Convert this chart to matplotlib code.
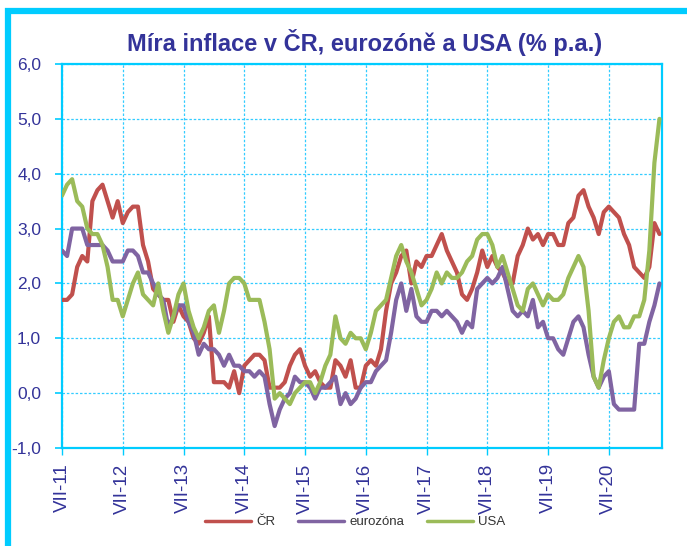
import matplotlib
matplotlib.use("Agg")
import matplotlib.pyplot as plt
from matplotlib.patches import Rectangle
import numpy as np

# ---- data (monthly, VII-2011 .. V-2021) ----
cr = [1.7,1.7,1.8,2.3,2.5,2.4,
      3.5,3.7,3.8,3.5,3.2,3.5,3.1,3.3,3.4,3.4,2.7,2.4,
      1.9,1.8,1.7,1.7,1.3,1.6,1.4,1.3,1.0,0.9,1.1,1.4,
      0.2,0.2,0.2,0.1,0.4,0.0,0.5,0.6,0.7,0.7,0.6,0.1,
      0.1,0.1,0.2,0.5,0.7,0.8,0.5,0.3,0.4,0.2,0.1,0.1,
      0.6,0.5,0.3,0.6,0.1,0.1,0.5,0.6,0.5,0.8,1.5,2.0,
      2.2,2.5,2.6,2.0,2.4,2.3,2.5,2.5,2.7,2.9,2.6,2.4,
      2.2,1.8,1.7,1.9,2.2,2.6,2.3,2.5,2.3,2.2,2.0,2.0,
      2.5,2.7,3.0,2.8,2.9,2.7,2.9,2.9,2.7,2.7,3.1,3.2,
      3.6,3.7,3.4,3.2,2.9,3.3,3.4,3.3,3.2,2.9,2.7,2.3,
      2.2,2.1,2.3,3.1,2.9]
eurozona = [2.6,2.5,3.0,3.0,3.0,2.7,
            2.7,2.7,2.7,2.6,2.4,2.4,2.4,2.6,2.6,2.5,2.2,2.2,
            2.0,1.8,1.7,1.2,1.4,1.6,1.6,1.3,1.1,0.7,0.9,0.8,
            0.8,0.7,0.5,0.7,0.5,0.5,0.4,0.4,0.3,0.4,0.3,-0.2,
            -0.6,-0.3,-0.1,0.0,0.3,0.2,0.2,0.1,-0.1,0.1,0.1,0.2,
            0.3,-0.2,0.0,-0.2,-0.1,0.1,0.2,0.2,0.4,0.5,0.6,1.1,
            1.7,2.0,1.5,1.9,1.4,1.3,1.3,1.5,1.5,1.4,1.5,1.4,
            1.3,1.1,1.3,1.2,1.9,2.0,2.1,2.0,2.1,2.3,1.9,1.5,
            1.4,1.5,1.4,1.7,1.2,1.3,1.0,1.0,0.8,0.7,1.0,1.3,
            1.4,1.2,0.7,0.3,0.1,0.3,0.4,-0.2,-0.3,-0.3,-0.3,-0.3,
            0.9,0.9,1.3,1.6,2.0]
usa = [3.6,3.8,3.9,3.5,3.4,3.0,
       2.9,2.9,2.7,2.3,1.7,1.7,1.4,1.7,2.0,2.2,1.8,1.7,
       1.6,2.0,1.5,1.1,1.4,1.8,2.0,1.5,1.2,1.0,1.2,1.5,
       1.6,1.1,1.5,2.0,2.1,2.1,2.0,1.7,1.7,1.7,1.3,0.8,
       -0.1,0.0,-0.1,-0.2,0.0,0.1,0.2,0.2,0.0,0.2,0.5,0.7,
       1.4,1.0,0.9,1.1,1.0,1.0,0.8,1.1,1.5,1.6,1.7,2.1,
       2.5,2.7,2.4,2.2,1.9,1.6,1.7,1.9,2.2,2.0,2.2,2.1,
       2.1,2.2,2.4,2.5,2.8,2.9,2.9,2.7,2.3,2.5,2.2,1.9,
       1.6,1.5,1.9,2.0,1.8,1.6,1.8,1.7,1.7,1.8,2.1,2.3,
       2.5,2.3,1.5,0.3,0.1,0.6,1.0,1.3,1.4,1.2,1.2,1.4,
       1.4,1.7,2.6,4.2,5.0]
series_names = ["ČR", "eurozóna", "USA"]
xtick_labels = ["VII-11", "VII-12", "VII-13", "VII-14", "VII-15",
                "VII-16", "VII-17", "VII-18", "VII-19", "VII-20"]
yticks = [-1.0, 0.0, 1.0, 2.0, 3.0, 4.0, 5.0, 6.0]
title = "Míra inflace v ČR, eurozóně a USA (% p.a.)"

# ---- styling ----
W, H = 687, 546
fig = plt.figure(figsize=(W / 100, H / 100), dpi=100)
fig.patch.set_facecolor("white")

cyan = "#00CCFF"
txt_col = "#333399"
colors = ["#C0504D", "#8064A2", "#9BBB59"]
fam = ["Liberation Sans", "DejaVu Sans"]

# outer cyan frame (cropped: top + left visible)
fig.add_artist(Rectangle((8 / W, -0.5), 2.0, 1.5 - 11 / H, transform=fig.transFigure,
                         fill=False, edgecolor=cyan, linewidth=4.5, zorder=0))

ax = fig.add_axes([62 / W, 1 - 448 / H, (662 - 62) / W, (448 - 64) / H])
x = np.arange(len(cr))
for vals, name, c in zip([cr, eurozona, usa], series_names, colors):
    ax.plot(x, vals, color=c, lw=3.0, label=name, solid_joinstyle="round",
            solid_capstyle="round", zorder=3)

ax.set_xlim(0, 118.5)
ax.set_ylim(-1, 6)
ax.set_yticks(yticks)
ax.set_yticklabels([f"{v:.1f}".replace(".", ",") for v in yticks])
ax.set_xticks(np.arange(0, 12 * len(xtick_labels), 12))
ax.set_xticklabels(xtick_labels, rotation=90)

for lab in ax.get_yticklabels():
    lab.set_fontfamily(fam)
    lab.set_fontsize(12.5)
    lab.set_color(txt_col)
for lab in ax.get_xticklabels():
    lab.set_fontfamily(fam)
    lab.set_fontsize(13.5)
    lab.set_color(txt_col)

ax.tick_params(axis="y", direction="out", length=5, width=1.2, color=cyan, pad=10)
ax.tick_params(axis="x", direction="out", length=5, width=1.0, color=cyan, pad=6)
for s in ax.spines.values():
    s.set_color(cyan)
    s.set_linewidth(1.6)

ax.grid(True, color="#33CCFF", linestyle=(0, (2, 1.5)), linewidth=0.9, zorder=1)
ax.set_axisbelow(True)

fig.text(365 / W, 1 - 42 / H, title, ha="center", va="center",
         fontsize=17, fontweight="bold", color=txt_col, family=fam)

leg = fig.legend(loc="center", bbox_to_anchor=(355 / W, 1 - 522 / H), ncol=3,
                 frameon=False, handlelength=3.5, handletextpad=0.4,
                 columnspacing=1.7, prop={"family": fam, "size": 9.5})
for t in leg.get_texts():
    t.set_color("#333333")
for h in leg.legend_handles:
    h.set_linewidth(2.5)

fig.savefig("out.png", dpi=100)
